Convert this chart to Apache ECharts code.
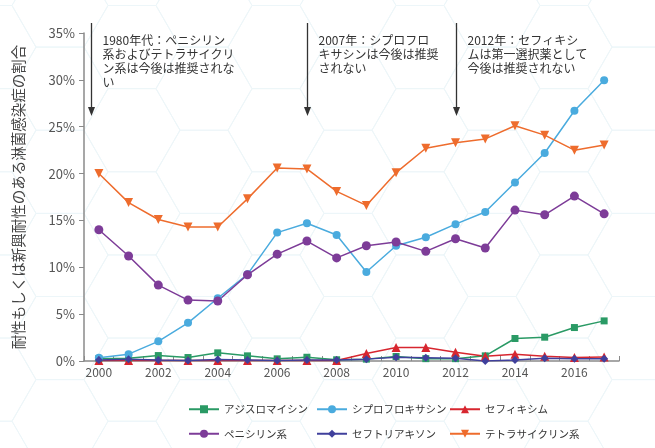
<!DOCTYPE html>
<html>
<head>
<meta charset="utf-8">
<script src="https://cdn.jsdelivr.net/npm/echarts@6/dist/echarts.min.js"></script>
<style>
html,body{margin:0;padding:0;background:#fff;}
#chart{width:655px;height:448px;}
</style>
</head>
<body>
<div id="chart"></div>
<script>
// ---- data ----
var years = [2000,2001,2002,2003,2004,2005,2006,2007,2008,2009,2010,2011,2012,2013,2014,2015,2016,2017];
var azithromycin = [0.25,0.3,0.58,0.37,0.87,0.55,0.23,0.4,0.13,0.2,0.48,0.25,0.25,0.55,2.4,2.54,3.57,4.28];
var ciprofloxacin = [0.34,0.73,2.1,4.07,6.7,9.25,13.7,14.7,13.45,9.5,12.3,13.2,14.6,15.9,19.05,22.2,26.7,29.95];
var cefixime = [0.05,0.05,0.05,0.05,0.05,0.05,0.05,0.05,0.05,0.8,1.44,1.44,0.94,0.51,0.73,0.51,0.37,0.44];
var penicillin = [14.0,11.2,8.1,6.5,6.4,9.2,11.4,12.8,11.0,12.3,12.7,11.7,13.05,12.06,16.1,15.6,17.6,15.7];
var ceftriaxone = [0.1,0.2,0.1,0.05,0.15,0.1,0.05,0.1,0.1,0.2,0.4,0.35,0.3,0.0,0.1,0.3,0.25,0.25];
var tetracycline = [20.0,16.9,15.1,14.3,14.3,17.3,20.6,20.5,18.1,16.6,20.1,22.7,23.3,23.7,25.1,24.1,22.5,23.05];
var seriesNames = ['アジスロマイシン','シプロフロキサシン','セフィキシム','ペニシリン系','セフトリアキソン','テトラサイクリン系'];
var yTicks = [0,5,10,15,20,25,30,35];
var yAxisTitle = '耐性もしくは新興耐性のある淋菌感染症の割合';
var annotationYears = [1999.75, 2007, 2012];
var annotationTexts = [
  '1980年代：ペニシリン\n系およびテトラサイクリ\nン系は今後は推奨されな\nい',
  '2007年：シプロフロ\nキサシンは今後は推奨\nされない',
  '2012年：セフィキシ\nムは第一選択薬として\n今後は推奨されない'
];

var colors = ['#2a9a65','#4aabde','#d7262f','#7d3c98','#40409c','#ee6c2d'];
var FONT = '"Noto Sans CJK JP", "Noto Sans", sans-serif';

function pairs(arr){ return years.map(function(y,i){ return [y, arr[i]]; }); }

var seriesData = [azithromycin, ciprofloxacin, cefixime, penicillin, ceftriaxone, tetracycline];
var symbols = ['rect','circle','triangle','circle','diamond','triangle'];
var symSizes = [7,8,9,9,8,9];
var rotates = [0,0,0,0,0,180];

var chart = echarts.init(document.getElementById('chart'), null, {renderer:'canvas'});

var series = seriesData.map(function(d, i){
  return {
    name: seriesNames[i],
    type: 'line',
    data: pairs(d),
    symbol: symbols[i],
    symbolSize: symSizes[i],
    symbolRotate: rotates[i],
    showAllSymbol: true,
    lineStyle: {color: colors[i], width: 1.5},
    itemStyle: {color: colors[i]},
    emphasis: {disabled: true},
    z: 3
  };
});

function legendFor(names, left){
  return {
    data: names,
    orient: 'vertical',
    left: left,
    top: 404,
    itemWidth: 30,
    itemHeight: 10,
    itemGap: 14,
    padding: 0,
    textStyle: {fontFamily: FONT, fontSize: 10.5, color: '#333'},
    selectedMode: false
  };
}

chart.setOption({
  animation: false,
  backgroundColor: '#fff',
  grid: {left: 84, right: 36, top: 33, bottom: 87, containLabel: false},
  xAxis: {
    type: 'value',
    min: 1999.5, max: 2017.5, interval: 0.5,
    axisLine: {lineStyle: {color: '#8a8a8a', width: 1.5}},
    axisTick: {inside: true, length: 5, lineStyle: {color: '#8a8a8a', width: 1}},
    axisLabel: {
      fontFamily: FONT, fontSize: 12, color: '#555', margin: 5,
      formatter: function(v){ return (Math.abs(v % 2) < 1e-6) ? String(v) : ''; }
    },
    splitLine: {show: false}
  },
  yAxis: {
    type: 'value',
    min: yTicks[0], max: yTicks[yTicks.length-1], interval: 5,
    name: yAxisTitle,
    nameLocation: 'middle',
    nameGap: 58,
    nameRotate: 90,
    nameTextStyle: {fontFamily: FONT, fontSize: 14.5, color: '#444'},
    axisLine: {show: true, lineStyle: {color: '#8a8a8a', width: 1.5}},
    axisTick: {show: true, length: 5, lineStyle: {color: '#8a8a8a'}},
    axisLabel: {fontFamily: FONT, fontSize: 13, color: '#555', margin: 9, formatter: '{value}%'},
    splitLine: {show: false}
  },
  legend: [
    legendFor([seriesNames[0], seriesNames[3]], 188),
    legendFor([seriesNames[1], seriesNames[4]], 316),
    legendFor([seriesNames[2], seriesNames[5]], 449)
  ],
  series: series
});

// ---- decorations: hexagon background, arrows, annotation texts ----
var graphics = [];
var s = 48, h = s * Math.sqrt(3) / 2;
for (var i = -6; i <= 4; i++) {
  var cx = 420 + i * 1.5 * s;
  var off = (Math.abs(i) % 2 === 1) ? -h : 0;
  for (var k = -4; k <= 3; k++) {
    var cy = 296.5 + off + k * 2 * h;
    graphics.push({
      type: 'polygon', silent: true, z: -10,
      shape: {points: [[cx - s, cy],[cx - s/2, cy - h],[cx + s/2, cy - h],[cx + s, cy],[cx + s/2, cy + h],[cx - s/2, cy + h]]},
      style: {fill: 'none', stroke: '#edf6f9', lineWidth: 1}
    });
  }
}
annotationYears.forEach(function(yr, idx){
  var px = Math.round(chart.convertToPixel({gridIndex: 0}, [yr, 0])[0]) + 0.5;
  graphics.push({
    type: 'line', silent: true, z: 5,
    shape: {x1: px, y1: 23, x2: px, y2: 108},
    style: {stroke: '#333', lineWidth: 1.3}
  });
  graphics.push({
    type: 'polygon', silent: true, z: 5,
    shape: {points: [[px - 3.5, 107],[px + 3.5, 107],[px, 116]]},
    style: {fill: '#333'}
  });
  graphics.push({
    type: 'text', silent: true, z: 5,
    left: px + 11, top: 33,
    style: {text: annotationTexts[idx], fontFamily: FONT, fontSize: 12, lineHeight: 14, fill: '#333'}
  });
});
chart.setOption({graphic: graphics});
</script>
</body>
</html>
